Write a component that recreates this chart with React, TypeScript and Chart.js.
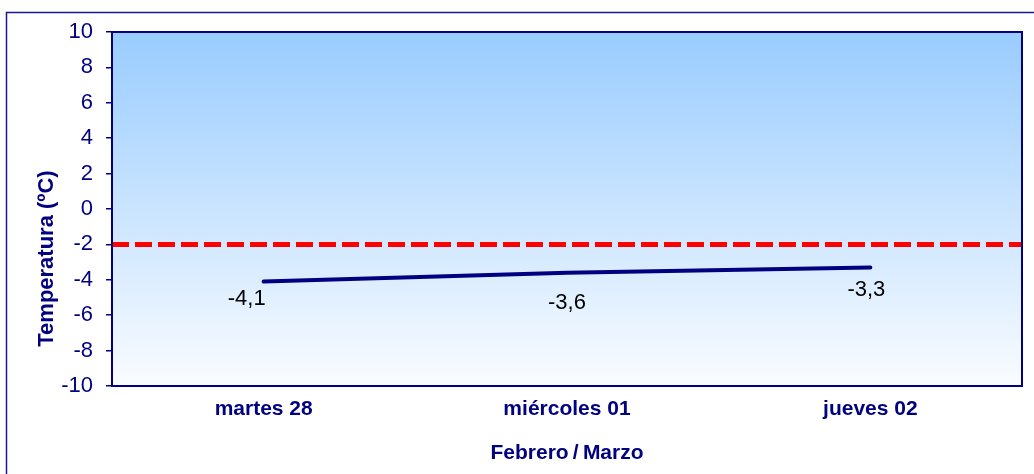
import React, { useEffect, useRef } from "react";
import { Chart, registerables } from "chart.js";

Chart.register(...registerables);

const categories = ["martes 28", "miércoles 01", "jueves 02"];
const temperatures = [-4.1, -3.6, -3.3];
const threshold = -2;
const yMin = -10;
const yMax = 10;
const yStep = 2;
const xTitle = "Febrero\u2009/\u2009Marzo";
const yTitle = "Temperatura (ºC)";

// label placement relative to each point (style, not data)
const LABEL_OFFSETS = [
  [-17, 17],
  [0, 30],
  [-4, 23],
];

const NAVY = "#000080";
const FONT = "'Liberation Sans', Arial, sans-serif";

const decorPlugin = {
  id: "decor",
  beforeDraw(chart: any) {
    const { ctx, chartArea } = chart;
    const { left, top, right, bottom } = chartArea;
    ctx.save();
    ctx.fillStyle = "#ffffff";
    ctx.fillRect(0, 0, chart.width, chart.height);
    // outer frame (left and top edges visible)
    ctx.strokeStyle = "#1a1a90";
    ctx.lineWidth = 1.5;
    ctx.strokeRect(6.5, 12.5, 4000, 4000);
    // plot background gradient
    const g = ctx.createLinearGradient(0, top, 0, bottom);
    g.addColorStop(0, "#99ccff");
    g.addColorStop(1, "#fafcff");
    ctx.fillStyle = g;
    ctx.fillRect(left, top, right - left, bottom - top);
    ctx.restore();
  },
  afterDatasetsDraw(chart: any) {
    const { ctx, chartArea, scales } = chart;
    const { left, top, right, bottom } = chartArea;
    ctx.save();
    // threshold dashed line
    const y = scales.y.getPixelForValue(threshold);
    ctx.strokeStyle = "#ff0000";
    ctx.lineWidth = 5;
    ctx.setLineDash([17, 6]);
    ctx.beginPath();
    ctx.moveTo(left, y);
    ctx.lineTo(right, y);
    ctx.stroke();
    ctx.setLineDash([]);
    // data labels
    const meta = chart.getDatasetMeta(0);
    ctx.fillStyle = "#000000";
    ctx.font = `22px ${FONT}`;
    ctx.textAlign = "center";
    ctx.textBaseline = "middle";
    meta.data.forEach((pt: any, i: number) => {
      const off = LABEL_OFFSETS[i] || [0, 20];
      const txt = temperatures[i].toFixed(1).replace(".", ",");
      ctx.fillText(txt, pt.x + off[0], pt.y + off[1]);
    });
    // plot border
    ctx.strokeStyle = NAVY;
    ctx.lineWidth = 2;
    ctx.strokeRect(left, top, right - left, bottom - top);
    // y title
    ctx.fillStyle = NAVY;
    ctx.font = `bold 22px ${FONT}`;
    ctx.translate(47, top + (bottom - top) * 0.64);
    ctx.rotate(-Math.PI / 2);
    ctx.textAlign = "center";
    ctx.textBaseline = "middle";
    ctx.fillText(yTitle, 0, 0);
    ctx.restore();
  },
};

export default function App() {
  const ref = useRef<HTMLCanvasElement>(null);
  useEffect(() => {
    if (!ref.current) return;
    const chart = new Chart(ref.current, {
      type: "line",
      data: {
        labels: categories,
        datasets: [
          {
            data: temperatures,
            borderColor: NAVY,
            borderWidth: 4,
            borderCapStyle: "round",
            pointRadius: 0,
            tension: 0,
            fill: false,
          },
        ],
      },
      options: {
        animation: false,
        responsive: false,
        devicePixelRatio: 1,
        layout: { padding: { top: 32, right: 12, left: 0, bottom: 0 } },
        plugins: {
          legend: { display: false },
          tooltip: { enabled: false },
        },
        scales: {
          x: {
            offset: true,
            grid: { display: false, drawTicks: false, tickLength: 0 },
            border: { display: false },
            ticks: {
              color: NAVY,
              font: { family: FONT, size: 21, weight: "bold" },
              padding: 11,
            },
            title: {
              display: true,
              text: xTitle,
              color: NAVY,
              font: { family: FONT, size: 21, weight: "bold" },
              padding: { top: 0, bottom: 8 },
            },
            afterFit(scale: any) {
              scale.height = 88;
            },
          },
          y: {
            min: yMin,
            max: yMax,
            ticks: {
              stepSize: yStep,
              color: NAVY,
              font: { family: FONT, size: 22 },
              padding: 13,
            },
            grid: {
              display: true,
              drawOnChartArea: false,
              drawTicks: true,
              tickLength: 6,
              color: NAVY,
              lineWidth: 1.5,
            },
            border: { display: true, color: NAVY, width: 2 },
            afterFit(scale: any) {
              scale.width = 112;
            },
          },
        },
      },
      plugins: [decorPlugin],
    } as any);
    return () => chart.destroy();
  }, []);
  return (
    <div style={{ position: "fixed", left: 0, top: 0, width: 1034, height: 474 }}>
      <canvas ref={ref} width={1034} height={474} style={{ display: "block" }} />
    </div>
  );
}
